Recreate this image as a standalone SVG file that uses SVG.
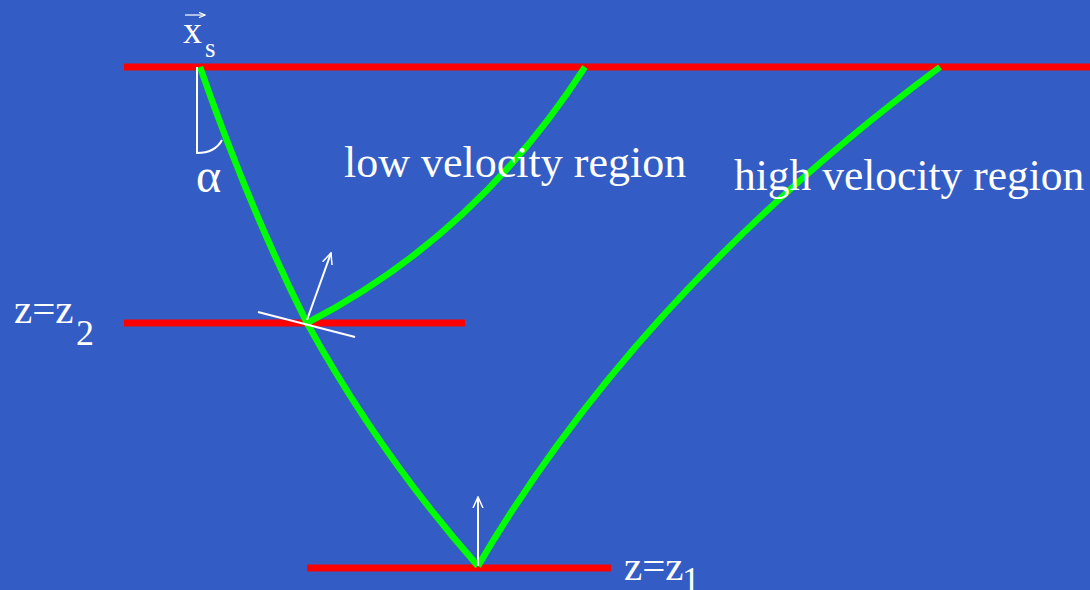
<svg xmlns="http://www.w3.org/2000/svg" width="1090" height="590" viewBox="0 0 1090 590">
<defs>
<style>
.red{stroke:#ff0000;stroke-width:7;fill:none}
.ray{stroke:#00ff00;stroke-width:6.5;fill:none}
.wh{stroke:#ffffff;stroke-width:2;fill:none}
.t{fill:#ffffff;font-family:"Liberation Serif",serif}
</style>
<marker id="ah" viewBox="0 0 12 12" refX="11" refY="6" markerWidth="12" markerHeight="12" markerUnits="userSpaceOnUse" orient="auto">
<path d="M0,1 L11,6 L0,11" stroke="#fff" stroke-width="1.5" fill="none"/>
</marker>
<marker id="ah2" viewBox="0 0 10 10" refX="9" refY="5" markerWidth="7" markerHeight="7" markerUnits="userSpaceOnUse" orient="auto">
<path d="M0,1 L9,5 L0,9" stroke="#fff" stroke-width="1.5" fill="none"/>
</marker>
</defs>
<rect width="1090" height="590" fill="#335cc5"/>
<g id="interfaces">
<line id="surface" class="red" x1="124" y1="67" x2="1090" y2="67"/>
<line id="z2" class="red" x1="124" y1="323" x2="465" y2="323"/>
<line id="z1" class="red" x1="307" y1="568" x2="611" y2="568"/>
</g>
<g id="rays">
<path class="ray" d="M200,67 Q250,210 307,323 Q380,455 478,566"/>
<path class="ray" d="M307,323 Q476,236 585,67"/>
<path class="ray" d="M478,566 Q640,290 940,67"/>
</g>
<g id="annotations">
<path class="wh" d="M197,67 L197,153 Q215,153 222,140" stroke-width="1.5"/>
<line class="wh" x1="307" y1="320" x2="331" y2="253" marker-end="url(#ah)"/>
<line class="wh" x1="258" y1="312" x2="355" y2="337"/>
<line class="wh" x1="478" y1="566" x2="478" y2="497" marker-end="url(#ah)"/>
</g>
<g id="labels">
<text class="t" x="183" y="43" font-size="38">x</text>
<text class="t" x="205" y="57" font-size="27">s</text>
<line x1="185" y1="15" x2="205" y2="15" stroke="#fff" stroke-width="1.2" marker-end="url(#ah2)"/>
<text class="t" x="196" y="192" font-size="48">α</text>
<text class="t" x="344" y="177" font-size="44">low velocity region</text>
<text class="t" x="734" y="190" font-size="43.5">high velocity region</text>
<text class="t" x="14" y="323" font-size="41">z=z</text>
<text class="t" x="76" y="345" font-size="36">2</text>
<text class="t" x="624" y="580" font-size="41">z=z</text>
<text class="t" x="682" y="592" font-size="36">1</text>
</g>
</svg>
